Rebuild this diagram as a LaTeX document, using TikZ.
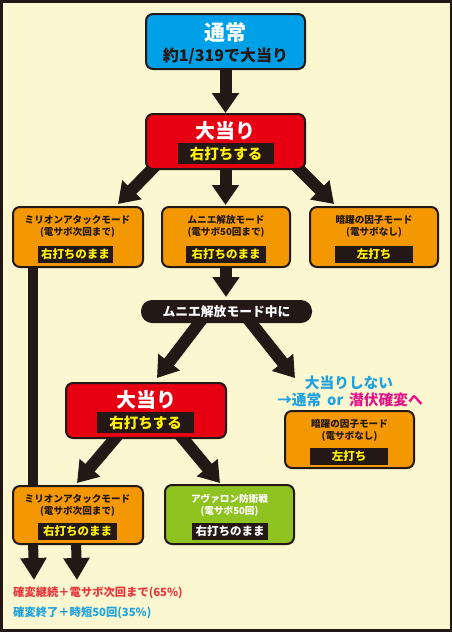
\documentclass[tikz,border=0pt]{standalone}
\usepackage{fontspec}
\setmainfont{Noto Sans CJK JP}
\usetikzlibrary{arrows.meta,calc}
\definecolor{dk}{HTML}{231815}
\definecolor{cream}{HTML}{FBF7D0}
\definecolor{blu}{HTML}{00A0E9}
\definecolor{rd}{HTML}{E60012}
\definecolor{org}{HTML}{F39800}
\definecolor{grn}{HTML}{8FC31F}
\definecolor{ylw}{HTML}{FFF100}
\definecolor{txtblue}{HTML}{1FA2E0}
\definecolor{mag}{HTML}{E4158A}
\definecolor{txtred}{HTML}{E8383D}
\newcommand\fsz[1]{\fontsize{#1}{#1}\selectfont}
\pgfdeclarelayer{bg}
\pgfdeclarelayer{arrowlayer}
\pgfsetlayers{bg,arrowlayer,main}
\begin{document}
\begin{tikzpicture}[x=1pt,y=-1pt,
  box/.style={draw=dk,line width=2pt,rounded corners=7pt,inner sep=0pt},
  bluebox/.style={box,fill=blu,minimum width=159pt,minimum height=55pt},
  redbox/.style={box,fill=rd,minimum width=159pt,minimum height=55pt},
  orgbox/.style={box,fill=org,minimum width=129pt,minimum height=58pt},
  grnbox/.style={box,fill=grn,minimum width=129pt,minimum height=58pt},
  band/.style={fill=dk,inner sep=0pt,text=ylw,minimum height=17pt,font=\bfseries\fsz{11.5}},
  bigband/.style={band,minimum height=21pt,font=\bfseries\fsz{14.5}},
  small/.style={inner sep=0pt,text=dk,font=\bfseries\fsz{9.6}},
  title/.style={inner sep=0pt,text=white,font=\bfseries\fsz{20}},
  pill/.style={fill=dk,rounded corners=11pt,inner sep=0pt,minimum width=171pt,minimum height=23pt,text=white,font=\bfseries\fsz{12.8}},
  arr/.style={draw=dk,line width=12pt,-{Triangle[width=26pt,length=20pt]}},
  arrs/.style={draw=dk,line width=10pt,-{Triangle[width=25pt,length=22pt]}},
  vline/.style={draw=dk,line width=9.5pt},
  note/.style={inner sep=0pt,anchor=west,font=\bfseries\fsz{11.3}}
]
\begin{pgfonlayer}{bg}
\fill[dk] (0,0) rectangle (452,632);
\fill[cream] (2.5,2.5) rectangle (449.5,628.5);
\end{pgfonlayer}
\useasboundingbox (0,0) rectangle (452,632);

% top boxes
\node[bluebox] (normal) at (225.5,41.5) {};
\node[title,font=\bfseries\fsz{21}] (normalT) at (225.5,33) {通常};
\node[inner sep=0pt,text=dk,font=\bfseries\fsz{16}] (normalS) at (225.5,56) {約1/319で大当り};

\node[redbox] (hit1) at (225.5,141.5) {};
\node[title] (hit1T) at (225.5,131) {大当り};
\node[bigband,minimum width=96pt] (hit1B) at (226,153.5) {右打ちする};

% three mode boxes
\node[orgbox,minimum width=130pt,minimum height=60pt] (modeL) at (78,237) {};
\node[small] (modeL1) at (77.5,220) {ミリオンアタックモード};
\node[small] (modeL2) at (77.5,232.5) {(電サボ次回まで)};
\node[band,minimum width=75pt] (modeLB) at (75.5,254) {右打ちのまま};

\node[orgbox,minimum width=128pt,minimum height=60pt] (modeM) at (226,237) {};
\node[small] (modeM1) at (226,220) {ムニエ解放モード};
\node[small] (modeM2) at (226,232.5) {(電サボ50回まで)};
\node[band,minimum width=80pt] (modeMB) at (226,254) {右打ちのまま};

\node[orgbox,minimum width=128pt,minimum height=60pt] (modeR) at (374,237) {};
\node[small] (modeR1) at (374,220) {暗躍の因子モード};
\node[small] (modeR2) at (374,232.5) {(電サボなし)};
\node[band,minimum width=78pt] (modeRB) at (374,254) {左打ち};

% pill
\node[pill] (during) at (226.5,311.5) {ムニエ解放モード中に};

% second hit
\node[redbox,minimum width=160pt] (hit2) at (146,410.5) {};
\node[title] (hit2T) at (146,400) {大当り};
\node[bigband,minimum width=97pt] (hit2B) at (145.5,422.5) {右打ちする};

\node[inner sep=0pt,text=txtblue,font=\bfseries\fsz{14.7}] (miss1) at (349,383) {大当りしない};
\node[inner sep=0pt,text=txtblue,font=\bfseries\fsz{14.7}] (miss2) at (350,399.5) {→通常\,\ or\ \,\textcolor{mag}{潜伏確変へ}};

\node[orgbox,minimum height=57pt] (modeS) at (349.5,439.5) {};
\node[small] (modeS1) at (349.5,424) {暗躍の因子モード};
\node[small] (modeS2) at (349.5,436.5) {(電サボなし)};
\node[band,minimum width=78pt] (modeSB) at (349,456.5) {左打ち};

% bottom row
\node[orgbox,minimum width=130pt] (modeB) at (78,515) {};
\node[small] (modeB1) at (77.5,499) {ミリオンアタックモード};
\node[small] (modeB2) at (77.5,511.5) {(電サボ次回まで)};
\node[band,minimum width=79pt] (modeBB) at (77.5,531.5) {右打ちのまま};

\node[grnbox,minimum height=59pt] (avalon) at (229.5,514.5) {};
\node[small,text=white] (avalon1) at (229.5,499) {アヴァロン防衛戦};
\node[small,text=white] (avalon2) at (229.5,511.5) {(電サボ50回)};
\node[band,minimum width=76pt,text=white] (avalonB) at (230,531.5) {右打ちのまま};

% result notes
\node[note,text=txtred] (res1) at (13,593) {確変継続＋電サボ次回まで(65\%)};
\node[note,text=txtblue] (res2) at (13,613) {確変終了＋時短50回(35\%)};

% free ends of connectors
\coordinate (t1) at (225.5,113);
\coordinate (t2) at (118,204);
\coordinate (t3) at (225.5,205);
\coordinate (t4) at (334,204);
\coordinate (t5) at (226,297);
\coordinate (t6) at (157,378);
\coordinate (t7) at (295,378);
\coordinate (t8) at (77,483);
\coordinate (t9) at (220,483);
\coordinate (t10) at (34,580);
\coordinate (t11) at (77,580);

\begin{pgfonlayer}{arrowlayer}
\draw[arr] ($(normal.south)+(0,-8)$) -- (t1);
\draw[arr] ($(hit1.south)+(-65.5,-9)$) -- (t2);
\draw[arr] ($(hit1.south)+(0,-9)$) -- (t3);
\draw[arr] ($(hit1.south)+(65.5,-9)$) -- (t4);
\draw[arr] ($(modeM.south)+(0,-8)$) -- (t5);
\draw[arr] ($(during.south)+(-21.5,-8)$) -- (t6);
\draw[arr] ($(during.south)+(18.5,-8)$) -- (t7);
\draw[arr] ($(hit2.south)+(-23,-10)$) -- (t8);
\draw[arr] ($(hit2.south)+(29,-10)$) -- (t9);
\draw[vline] ($(modeL.south west)+(21,-5)$) -- ($(modeB.north west)+(21,5)$);
\draw[arrs] ($(modeB.south west)+(21,-5)$) -- (t10);
\draw[arrs] ($(modeB.south west)+(64,-5)$) -- (t11);
\end{pgfonlayer}
\end{tikzpicture}
\end{document}
